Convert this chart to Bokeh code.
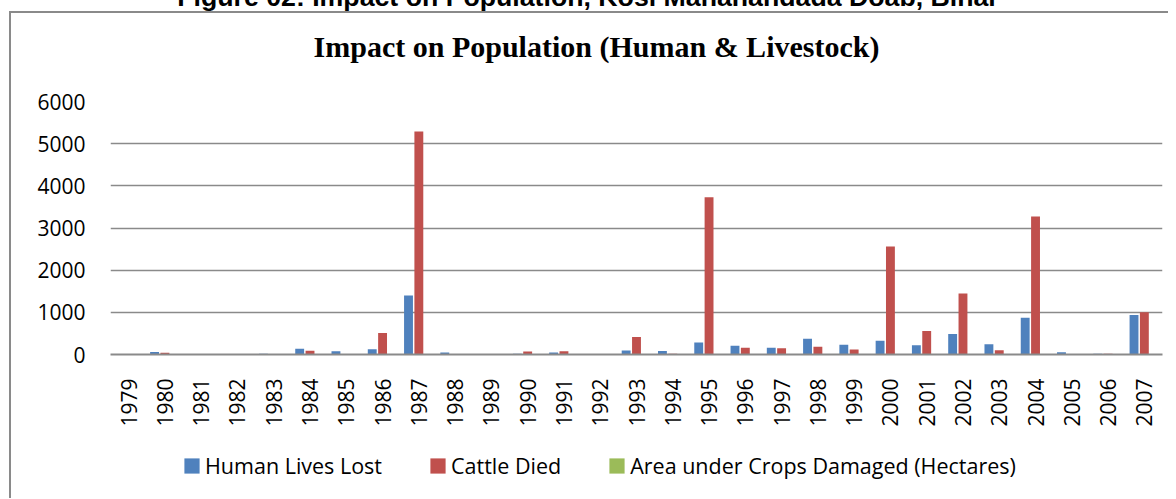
import math
from bokeh.plotting import figure
from bokeh.layouts import column
from bokeh.models import (FactorRange, Range1d, Legend, LegendItem, Div,
                          ColumnDataSource, FixedTicker)
from bokeh.transform import dodge
from bokeh.embed import file_html
from bokeh.resources import INLINE

years = ["1979", "1980", "1981", "1982", "1983", "1984", "1985", "1986", "1987",
         "1988", "1989", "1990", "1991", "1992", "1993", "1994", "1995", "1996",
         "1997", "1998", "1999", "2000", "2001", "2002", "2003", "2004", "2005",
         "2006", "2007"]
human_lives_lost = [0, 60, 0, 0, 15, 135, 80, 127, 1397, 48, 0, 20, 45, 0, 95, 85,
                    286, 206, 159, 373, 230, 325, 222, 484, 246, 873, 55, 15, 936]
cattle_died = [0, 40, 0, 0, 0, 87, 0, 508, 5290, 0, 0, 70, 80, 0, 413, 20,
               3730, 159, 150, 183, 119, 2560, 556, 1444, 103, 3270, 0, 20, 1000]
crops_damaged = [0, 0, 0, 0, 0, 0, 0, 0, 10, 0, 0, 0, 0, 0, 0, 0,
                 0, 0, 0, 0, 0, 0, 0, 0, 0, 0, 0, 0, 0]
y_ticks = [0, 1000, 2000, 3000, 4000, 5000, 6000]

series_names = ["Human Lives Lost", "Cattle Died", "Area under Crops Damaged (Hectares)"]
colors = ["#4F81BD", "#C0504D", "#9BBB59"]
main_title = "Impact on Population (Human &amp; Livestock)"
fig_title = "Figure 02: Impact on Population, Kosi Mahanandada Doab, Bihar"

src = ColumnDataSource(dict(year=years, human=human_lives_lost,
                            cattle=cattle_died, crops=crops_damaged))

W = 1168
HDR = 80          # header (titles) height
MAIN_H = 360      # chart canvas height
LEG_H = 58        # legend strip height
FONT = "Open Sans"

# ---------- header with the two titles ----------
hdr_html = (
    '<div style="position:relative;width:%dpx;height:%dpx;">'
    '<div style="position:absolute;left:88px;top:-15.6px;width:1000px;text-align:center;'
    'white-space:nowrap;font-family:\'Liberation Sans\';font-weight:bold;font-size:26.7px;'
    'line-height:1;color:#000;">%s</div>'
    '<div style="position:absolute;left:96.5px;top:31.9px;width:1000px;text-align:center;'
    'white-space:nowrap;font-family:\'Liberation Serif\';font-weight:bold;font-size:30px;'
    'line-height:1;color:#000;">%s</div>'
    '</div>' % (W, HDR, fig_title, main_title))
hdr = Div(text=hdr_html, width=W, height=HDR, margin=(0, 0, 0, 0))

# ---------- main chart ----------
p = figure(width=W, height=MAIN_H, x_range=FactorRange(factors=years, range_padding=0),
           y_range=Range1d(0, 6000), output_backend="svg", toolbar_location=None,
           min_border_left=110, min_border_right=6, min_border_top=101 - HDR,
           min_border_bottom=(HDR + MAIN_H) - 354, margin=(0, 0, 0, 0))
p.outline_line_color = None
p.background_fill_color = "white"
p.border_fill_alpha = 0

r1 = p.vbar(x=dodge("year", -0.285, range=p.x_range), top="human", width=0.245,
            source=src, fill_color=colors[0], line_color=None)
r2 = p.vbar(x=dodge("year", 0.0, range=p.x_range), top="cattle", width=0.245,
            source=src, fill_color=colors[1], line_color=None)
r3 = p.vbar(x=dodge("year", 0.285, range=p.x_range), top="crops", width=0.245,
            source=src, fill_color=colors[2], line_color=None)

p.xgrid.grid_line_color = None
p.ygrid.ticker = FixedTicker(ticks=y_ticks)
p.ygrid.grid_line_color = "#8a8a8a"
p.ygrid.grid_line_width = 1.5

p.yaxis.ticker = FixedTicker(ticks=y_ticks)
p.yaxis.axis_line_color = None
p.yaxis.major_tick_line_color = None
p.yaxis.minor_tick_line_color = None
p.yaxis.major_tick_in = 0
p.yaxis.major_tick_out = 0
p.yaxis.major_label_standoff = 25
p.yaxis.major_label_text_font = FONT
p.yaxis.major_label_text_font_size = "21px"
p.yaxis.major_label_text_color = "black"

p.xaxis.axis_line_color = "#8a8a8a"
p.xaxis.axis_line_width = 2
p.xaxis.major_tick_line_color = None
p.xaxis.major_tick_in = 0
p.xaxis.major_tick_out = 0
p.xaxis.major_label_standoff = 24
p.xaxis.major_label_orientation = math.pi / 2
p.xaxis.major_label_text_font = FONT
p.xaxis.major_label_text_font_size = "21px"
p.xaxis.major_label_text_color = "black"

# ---------- legend strip ----------
pl = figure(width=W, height=LEG_H, x_range=p.x_range, y_range=Range1d(-2, -1),
            output_backend="svg", toolbar_location=None, x_axis_location=None,
            y_axis_location=None, min_border=0, margin=(0, 0, 0, 0))
pl.grid.visible = False
pl.outline_line_color = None
pl.background_fill_alpha = 0
pl.border_fill_alpha = 0
l1 = pl.vbar(x=dodge("year", -0.285, range=pl.x_range), top="human", width=0.245,
             source=src, fill_color=colors[0], line_color=None, visible=False)
l2 = pl.vbar(x=dodge("year", 0.0, range=pl.x_range), top="cattle", width=0.245,
             source=src, fill_color=colors[1], line_color=None, visible=False)
l3 = pl.vbar(x=dodge("year", 0.285, range=pl.x_range), top="crops", width=0.245,
             source=src, fill_color=colors[2], line_color=None, visible=False)
legend = Legend(items=[LegendItem(label=series_names[0], renderers=[l1]),
                       LegendItem(label=series_names[1], renderers=[l2]),
                       LegendItem(label=series_names[2], renderers=[l3])],
                orientation="horizontal", location=(72, 18.5),
                padding=0, margin=0, spacing=46, label_standoff=4,
                glyph_width=19, glyph_height=19, label_height=15,
                label_text_font=FONT, label_text_font_size="21.5px",
                label_text_color="black", border_line_color=None,
                background_fill_alpha=0, inactive_fill_alpha=0)
pl.add_layout(legend)

layout = column(hdr, p, pl, spacing=0, margin=(0, 0, 0, 0),
                styles={"box-shadow": "inset 9px 11px 0 0 #ffffff, inset 11px 13px 0 0 #8a8a8a"})

open("out.html", "w").write(file_html(layout, INLINE))
